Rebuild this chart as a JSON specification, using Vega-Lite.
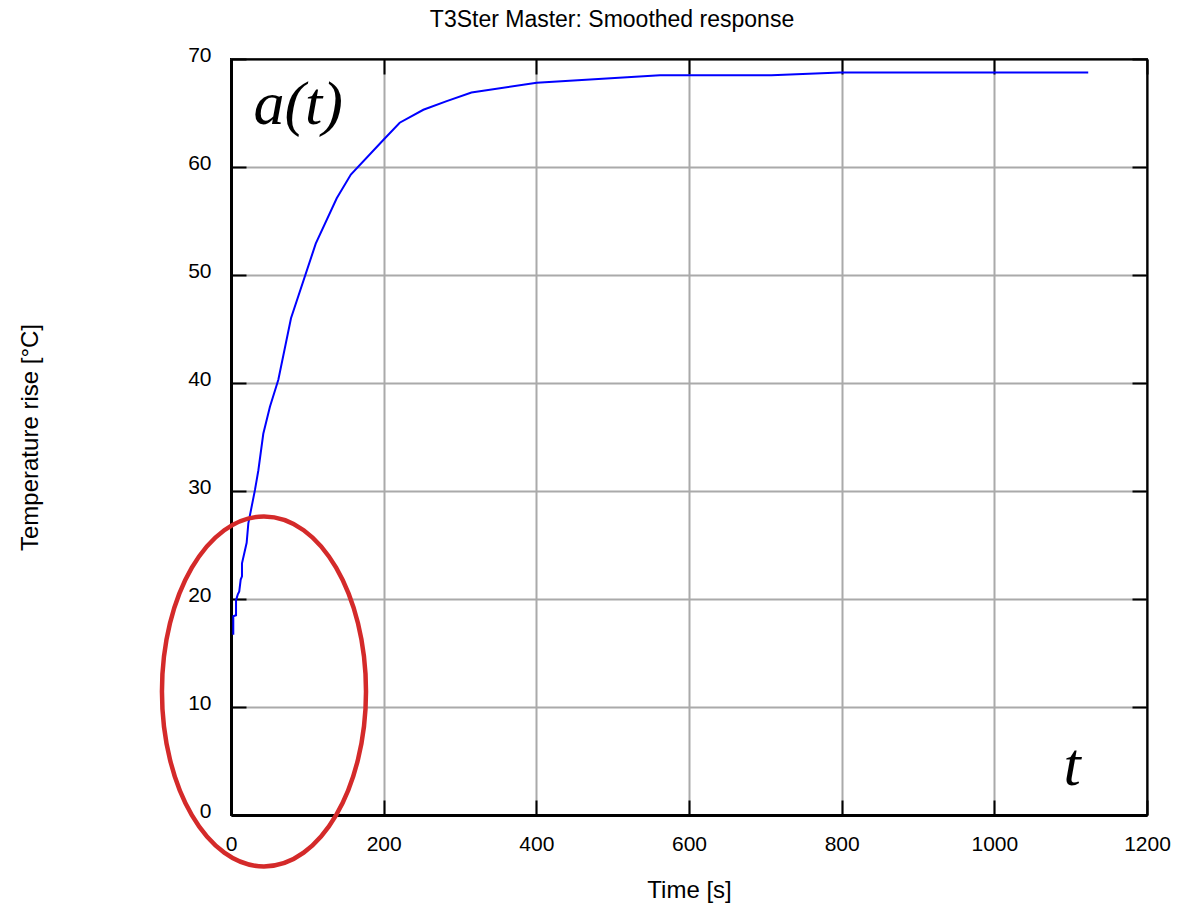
{
  "$schema": "https://vega.github.io/schema/vega-lite/v6.json",
  "width": 916,
  "height": 756,
  "autosize": "none",
  "padding": {"left": 231, "top": 59, "right": 30, "bottom": 93},
  "background": "white",
  "title": {
    "text": "T3Ster Master: Smoothed response",
    "font": "Liberation Sans",
    "fontSize": 23,
    "fontWeight": "normal",
    "color": "black",
    "anchor": "middle",
    "dx": -77,
    "offset": 12
  },
  "config": {
    "view": {"stroke": "black", "strokeWidth": 2},
    "font": "Liberation Sans"
  },
  "datasets": {
    "curve": [
      {"time": 3, "rise": 16.7},
      {"time": 3, "rise": 18.4},
      {"time": 6.6, "rise": 18.5},
      {"time": 6.6, "rise": 19.9},
      {"time": 8.8, "rise": 20.4},
      {"time": 10.8, "rise": 20.7},
      {"time": 12.7, "rise": 21.8},
      {"time": 14.4, "rise": 22.1},
      {"time": 14.4, "rise": 23.3},
      {"time": 20.5, "rise": 25.2},
      {"time": 22.7, "rise": 27.0},
      {"time": 31.4, "rise": 30.1},
      {"time": 35.8, "rise": 31.9},
      {"time": 42.3, "rise": 35.3},
      {"time": 51, "rise": 37.8},
      {"time": 62, "rise": 40.3},
      {"time": 78.6, "rise": 46.0},
      {"time": 111, "rise": 52.9},
      {"time": 138.5, "rise": 57.1},
      {"time": 157, "rise": 59.3},
      {"time": 199.5, "rise": 62.5},
      {"time": 221, "rise": 64.1},
      {"time": 252, "rise": 65.3},
      {"time": 282.6, "rise": 66.1},
      {"time": 315, "rise": 66.9},
      {"time": 400.5, "rise": 67.8},
      {"time": 562, "rise": 68.5},
      {"time": 708, "rise": 68.5},
      {"time": 798, "rise": 68.75},
      {"time": 1123, "rise": 68.75}
    ],
    "marker": [
      {"time": 43.2, "rise": 11.44}
    ],
    "labels": [
      {"time": 88, "rise": 64.0, "label": "a(t)"},
      {"time": 1102, "rise": 2.8, "label": "t"}
    ]
  },
  "layer": [
    {
      "data": {"name": "curve"},
      "mark": {"type": "line", "color": "#0000ff", "strokeWidth": 2},
      "encoding": {
        "x": {
          "field": "time",
          "type": "quantitative",
          "scale": {"domain": [0, 1200], "nice": false, "zero": false},
          "axis": {
            "orient": "bottom",
            "values": [0, 200, 400, 600, 800, 1000, 1200],
            "format": "d",
            "tickSize": -15,
            "tickWidth": 2,
            "tickColor": "black",
            "domainColor": "black",
            "domainWidth": 3,
            "grid": true,
            "gridColor": "#aaaaaa",
            "gridWidth": 2,
            "labelFontSize": 21,
            "labelColor": "black",
            "labelPadding": 33,
            "labelFlush": false,
            "title": "Time [s]",
            "titleFontSize": 24,
            "titleFontWeight": "normal",
            "titleColor": "black",
            "titleX": 458,
            "titleY": 75,
            "titleBaseline": "middle",
            "titleAlign": "center"
          }
        },
        "y": {
          "field": "rise",
          "type": "quantitative",
          "scale": {"domain": [0, 70], "nice": false, "zero": false},
          "axis": {
            "orient": "left",
            "values": [0, 10, 20, 30, 40, 50, 60, 70],
            "format": "d",
            "tickSize": -15,
            "tickWidth": 2,
            "tickColor": "black",
            "domainColor": "black",
            "domainWidth": 3,
            "grid": true,
            "gridColor": "#aaaaaa",
            "gridWidth": 2,
            "labelFontSize": 21,
            "labelColor": "black",
            "labelPadding": 35,
            "labelOffset": -4,
            "title": "Temperature rise [°C]",
            "titleFontSize": 24,
            "titleFontWeight": "normal",
            "titleColor": "black",
            "titleAngle": -90,
            "titleX": -201,
            "titleY": 378,
            "titleBaseline": "middle",
            "titleAlign": "center"
          }
        }
      }
    },
    {
      "data": {"name": "marker"},
      "mark": {
        "type": "point",
        "shape": "M -0.583 0 A 0.583 1 0 1 0 0.583 0 A 0.583 1 0 1 0 -0.583 0 Z",
        "size": 122500,
        "filled": false,
        "stroke": "#d42a2a",
        "strokeWidth": 4.5,
        "opacity": 1
      },
      "encoding": {
        "x": {"field": "time", "type": "quantitative", "axis": null},
        "y": {"field": "rise", "type": "quantitative", "axis": null}
      }
    },
    {
      "data": {"name": "labels"},
      "mark": {
        "type": "text",
        "font": "Liberation Serif",
        "fontStyle": "italic",
        "fontSize": 62,
        "baseline": "alphabetic",
        "align": "center",
        "color": "black"
      },
      "encoding": {
        "x": {
          "field": "time",
          "type": "quantitative",
          "axis": {
            "orient": "top",
            "values": [0, 200, 400, 600, 800, 1000, 1200],
            "tickSize": -15,
            "tickWidth": 2,
            "tickColor": "black",
            "domainColor": "black",
            "domainWidth": 2,
            "grid": false,
            "labels": false,
            "title": null
          }
        },
        "y": {
          "field": "rise",
          "type": "quantitative",
          "axis": {
            "orient": "right",
            "values": [0, 10, 20, 30, 40, 50, 60, 70],
            "tickSize": -15,
            "tickWidth": 2,
            "tickColor": "black",
            "domainColor": "black",
            "domainWidth": 2,
            "grid": false,
            "labels": false,
            "title": null
          }
        },
        "text": {"field": "label"}
      }
    }
  ],
  "resolve": {"axis": {"x": "independent", "y": "independent"}}
}
